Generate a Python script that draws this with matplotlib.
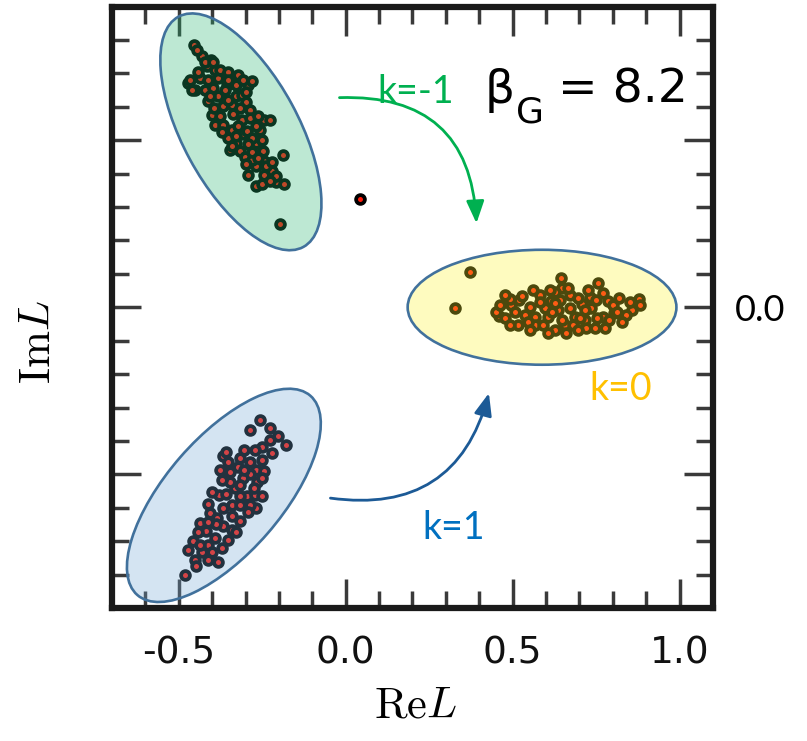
import matplotlib
matplotlib.use("Agg")
import matplotlib.pyplot as plt
from matplotlib.patches import Ellipse, FancyArrowPatch
from matplotlib.ticker import MultipleLocator, FixedLocator, FixedFormatter

plt.rcParams['axes.unicode_minus'] = False

# eigenvalues of the Polyakov loop, sector k = -1
top_re = [-0.454, -0.429, -0.415, -0.322, -0.294, -0.340, -0.307, -0.329, -0.269, -0.317,
          -0.188, -0.270, -0.222, -0.246, -0.210, -0.270, -0.198, -0.437, -0.382, -0.357,
          -0.330, -0.382, -0.329, -0.337, -0.287, -0.245, -0.392, -0.367, -0.342, -0.297,
          -0.281, -0.248, -0.392, -0.362, -0.412, -0.367, -0.312, -0.402, -0.352, -0.302,
          -0.282, -0.245, -0.472, -0.452, -0.312, -0.282, -0.422, -0.347, -0.257, -0.293,
          -0.404, -0.446, -0.422, -0.398, -0.377, -0.443, -0.353, -0.467, -0.413, -0.353,
          -0.308, -0.461, -0.398, -0.299, -0.407, -0.353, -0.299, -0.395, -0.317, -0.377,
          -0.287, -0.263, -0.228, -0.371, -0.323, -0.269, -0.329, -0.293, -0.251, -0.341,
          -0.281, -0.263, -0.299, -0.240, -0.222, -0.210, -0.186, -0.251, -0.228]
top_im = [0.784, 0.751, 0.723, 0.696, 0.664, 0.604, 0.519, 0.493, 0.493, 0.469,
          0.457, 0.422, 0.409, 0.397, 0.375, 0.362, 0.249, 0.686, 0.686, 0.666,
          0.666, 0.631, 0.631, 0.578, 0.591, 0.561, 0.546, 0.546, 0.531, 0.526,
          0.507, 0.469, 0.711, 0.651, 0.616, 0.601, 0.561, 0.576, 0.507, 0.451,
          0.442, 0.437, 0.671, 0.651, 0.636, 0.676, 0.651, 0.472, 0.531, 0.397,
          0.741, 0.771, 0.735, 0.735, 0.711, 0.705, 0.705, 0.681, 0.681, 0.681,
          0.681, 0.651, 0.657, 0.645, 0.633, 0.621, 0.615, 0.597, 0.597, 0.573,
          0.567, 0.573, 0.561, 0.525, 0.543, 0.543, 0.513, 0.490, 0.501, 0.484,
          0.466, 0.448, 0.430, 0.424, 0.436, 0.394, 0.370, 0.370, 0.379]

# sector k = 0
mid_re = [0.648, 0.757, 0.614, 0.707, 0.458, 0.566, 0.606, 0.686, 0.770, 0.805,
          0.857, 0.878, 0.566, 0.656, 0.748, 0.496, 0.491, 0.519, 0.551, 0.581,
          0.626, 0.671, 0.731, 0.785, 0.596, 0.636, 0.736, 0.716, 0.790, 0.626,
          0.681, 0.536, 0.644, 0.476, 0.451, 0.516, 0.840, 0.371, 0.328,
          0.461, 0.476, 0.506, 0.527, 0.545, 0.560, 0.581, 0.590, 0.611, 0.617,
          0.641, 0.647, 0.665, 0.671, 0.695, 0.701, 0.725, 0.719, 0.749, 0.754,
          0.772, 0.778, 0.802, 0.820, 0.826, 0.850, 0.880, 0.491, 0.551, 0.605,
          0.659, 0.695, 0.814, 0.716, 0.626]
mid_im = [0.059, 0.072, 0.020, 0.010, -0.025, -0.028, -0.028, -0.028, -0.028, -0.016,
          -0.007, 0.025, -0.052, -0.052, -0.062, 0.007, 0.025, 0.022, 0.002, 0.037,
          0.047, 0.037, 0.032, 0.020, -0.002, -0.007, -0.002, -0.037, -0.037, -0.067,
          -0.052, -0.022, 0.087, 0.037, -0.013, -0.052, -0.022, 0.105, -0.002,
          0.007, -0.031, -0.013, 0.034, -0.043, 0.052, 0.016, -0.052, 0.052, -0.013,
          0.022, -0.037, 0.058, -0.001, 0.028, -0.031, 0.052, -0.061, 0.022, -0.031,
          0.043, -0.061, 0.007, 0.028, -0.043, 0.016, 0.007, -0.052, -0.067, -0.076,
          -0.076, -0.067, -0.013, -0.007, 0.013]

# sector k = 1
bot_re = [-0.287, -0.257, -0.228, -0.180, -0.252, -0.222, -0.369, -0.322, -0.269, -0.246,
          -0.287, -0.266, -0.379, -0.332, -0.297, -0.272, -0.367, -0.342, -0.269, -0.407,
          -0.317, -0.367, -0.437, -0.417, -0.392, -0.457, -0.429, -0.452, -0.382, -0.482,
          -0.347, -0.317, -0.387, -0.342, -0.412, -0.287, -0.307,
          -0.359, -0.317, -0.287, -0.251, -0.347, -0.305, -0.251, -0.371, -0.317, -0.275,
          -0.401, -0.359, -0.317, -0.251, -0.413, -0.293, -0.341, -0.389, -0.353, -0.329,
          -0.443, -0.413, -0.437, -0.401, -0.473, -0.449, -0.413, -0.371, -0.228, -0.204,
          -0.272, -0.305, -0.353, -0.377]
bot_im = [-0.367, -0.337, -0.360, -0.412, -0.417, -0.437, -0.444, -0.477, -0.487, -0.490,
          -0.499, -0.523, -0.561, -0.541, -0.566, -0.561, -0.601, -0.591, -0.601, -0.616,
          -0.641, -0.656, -0.646, -0.671, -0.691, -0.701, -0.731, -0.756, -0.761, -0.801,
          -0.522, -0.591, -0.631, -0.666, -0.711, -0.591, -0.511,
          -0.433, -0.451, -0.463, -0.457, -0.493, -0.487, -0.510, -0.516, -0.531, -0.540,
          -0.552, -0.558, -0.564, -0.564, -0.588, -0.612, -0.624, -0.648, -0.696, -0.672,
          -0.672, -0.642, -0.711, -0.732, -0.726, -0.774, -0.756, -0.720, -0.397, -0.385,
          -0.427, -0.427, -0.463, -0.487]

# lone configuration between the sectors
odd_re = [0.042]
odd_im = [0.325]

fig = plt.figure(figsize=(8.07, 7.41), dpi=100)
ax = fig.add_axes([0.1388, 0.1795, 0.7447, 0.8117])

# red point with a thick black rim; drawn in order so later points cover earlier ones
for re, im in [(top_re, top_im), (mid_re, mid_im), (bot_re, bot_im), (odd_re, odd_im)]:
    ax.scatter(re, im, s=40, color='#ff1a0a', edgecolors='black', linewidths=2.7, zorder=2)

# shaded regions for each center sector
edge = '#41719c'
ax.add_patch(Ellipse((-0.314, 0.525), 0.784, 0.347, angle=-61.5,
                     facecolor=(0.15, 0.71, 0.44, 0.3), edgecolor=edge, lw=1.9, zorder=4))
ax.add_patch(Ellipse((0.588, 0.0), 0.805, 0.344, angle=0,
                     facecolor=(0.99, 0.96, 0.18, 0.3), edgecolor=edge, lw=1.9, zorder=4))
ax.add_patch(Ellipse((-0.365, -0.563), 0.790, 0.347, angle=49,
                     facecolor=(0.45, 0.65, 0.83, 0.3), edgecolor=edge, lw=1.9, zorder=4))

# tunnelling arrows
ax.add_patch(FancyArrowPatch((-0.027, 0.627), (0.392, 0.243), connectionstyle='arc3,rad=-0.5',
                             arrowstyle='-|>,head_length=0.75,head_width=0.3', mutation_scale=18,
                             color='#00b050', lw=2.0, zorder=5))
ax.add_patch(FancyArrowPatch((-0.054, -0.570), (0.431, -0.249), connectionstyle='arc3,rad=0.45',
                             arrowstyle='-|>,head_length=0.75,head_width=0.3', mutation_scale=18,
                             color='#1c5a96', lw=2.0, zorder=5))

ax.text(0.096, 0.612, 'k=-1', color='#00b050', fontsize=27, family='Lato', va='baseline', ha='left')
ax.text(0.824, -0.279, 'k=0', color='#ffc000', fontsize=27, family='Lato', va='baseline', ha='center')
ax.text(0.322, -0.693, 'k=1', color='#0070c0', fontsize=27, family='Lato', va='baseline', ha='center')

ax.text(0.416, 0.612, 'β', fontsize=34, va='baseline', ha='left')
ax.text(0.511, 0.552, 'G', fontsize=26, va='baseline', ha='left')
ax.text(0.635, 0.612, '= 8.2', fontsize=34, va='baseline', ha='left')

ax.text(1.24, -0.01, '0.0', fontsize=26, family='Lato', va='center', ha='center', clip_on=False)

ax.set_xlim(-0.70, 1.10)
ax.set_ylim(-0.90, 0.90)

ax.xaxis.set_major_locator(FixedLocator([-0.5, 0.0, 0.5, 1.0]))
ax.xaxis.set_major_formatter(FixedFormatter(['-0.5', '0.0', '0.5', '1.0']))
ax.yaxis.set_major_locator(MultipleLocator(0.5))
ax.xaxis.set_minor_locator(MultipleLocator(0.1))
ax.yaxis.set_minor_locator(MultipleLocator(0.1))
ax.tick_params(which='both', direction='in', top=True, right=True, color='#3a3a3a', width=2.5)
ax.tick_params(which='major', length=21)
ax.tick_params(which='minor', length=12)
ax.tick_params(axis='y', labelleft=False)
ax.tick_params(axis='x', labelsize=27, pad=20, labelcolor='#111111')

for s in ax.spines.values():
    s.set_linewidth(4.5)
    s.set_color('#1a1a1a')

fig.text(416 / 807, 1 - 705 / 741, r'$\mathrm{Re}L$', fontsize=32, math_fontfamily='cm',
         ha='center', va='center')
fig.text(37 / 807, 1 - 342 / 741, r'$\mathrm{Im}L$', fontsize=32, math_fontfamily='cm',
         ha='center', va='center', rotation=90)

fig.savefig('out.png', dpi=100)
